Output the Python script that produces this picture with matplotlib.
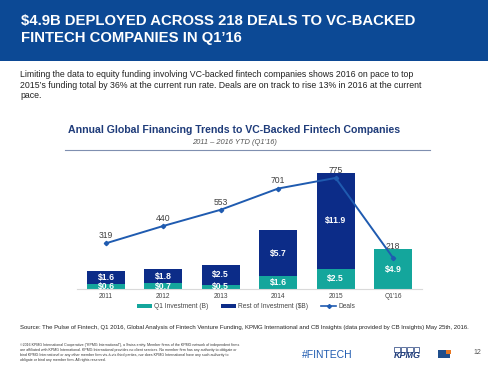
import numpy as np
import matplotlib
matplotlib.use("Agg")
import matplotlib.pyplot as plt
from matplotlib.patches import Rectangle, Patch
from matplotlib.lines import Line2D

# Data
years = ["2011", "2012", "2013", "2014", "2015", "Q1'16"]
q1_investment = [0.6, 0.7, 0.5, 1.6, 2.5, 4.9]
rest_investment = [1.6, 1.8, 2.5, 5.7, 11.9, 0.0]
deals = [319, 440, 553, 701, 775, 218]

plt.rcParams['font.family'] = ['Liberation Sans', 'DejaVu Sans']

header_blue = '#0C4995'
navy = '#0C2C88'
teal = '#14A69C'
line_blue = '#1F5BB0'

fig = plt.figure(figsize=(4.88, 3.70), dpi=100)
W, H = 488, 370

def fx(px):
    return px / W

def fy(py):
    return 1 - py / H

# header band
fig.patches.append(Rectangle((0, fy(61)), 1, 61 / H, transform=fig.transFigure,
                             facecolor=header_blue, edgecolor='none', zorder=0))
fig.text(fx(21), fy(21), "$4.9B DEPLOYED ACROSS 218 DEALS TO VC-BACKED",
         color='white', fontsize=10.7, fontweight='bold', va='center')
fig.text(fx(21), fy(38), "FINTECH COMPANIES IN Q1\u201916",
         color='white', fontsize=10.7, fontweight='bold', va='center')

intro = ("Limiting the data to equity funding involving VC-backed fintech companies shows 2016 on pace to top\n"
         "2015\u2019s funding total by 36% at the current run rate. Deals are on track to rise 13% in 2016 at the current\n"
         "pace.")
fig.text(fx(20), fy(70), intro, color='#222222', fontsize=6.3, va='top', linespacing=1.25)

# chart title
fig.text(fx(234), fy(130), "Annual Global Financing Trends to VC-Backed Fintech Companies",
         color='#1F3C7A', fontsize=7.6, fontweight='bold', ha='center', va='center')
fig.text(fx(234), fy(142), "2011 \u2013 2016 YTD (Q1\u201916)",
         color='#555555', fontsize=5.4, style='italic', ha='center', va='center')
fig.add_artist(Line2D([fx(65), fx(430)], [fy(150), fy(150)], transform=fig.transFigure,
                      color='#7F8FB0', linewidth=0.8))

# main axes
ax = fig.add_axes([fx(77.3), fy(289), (421.7 - 77.3) / W, 129 / H])
x = np.arange(len(years))
ax.bar(x, q1_investment, width=0.66, color=teal, zorder=2)
ax.bar(x, rest_investment, width=0.66, bottom=q1_investment, color=navy, zorder=2)
ax.set_xlim(-0.5, 5.5)
ax.set_ylim(0, 16)
ax.set_xticks(x)
ax.set_xticklabels(years, fontsize=4.8, color='#444444')
ax.tick_params(axis='x', length=0, pad=3)
ax.set_yticks([])
for s in ['top', 'right', 'left']:
    ax.spines[s].set_visible(False)
ax.spines['bottom'].set_color('#D9D9D9')
ax.spines['bottom'].set_linewidth(0.8)

for i in range(len(years)):
    ax.text(x[i], q1_investment[i] / 2, f"${q1_investment[i]}", color='white',
            fontsize=6.2, fontweight='bold', ha='center', va='center', zorder=3)
    if rest_investment[i] > 0:
        ax.text(x[i], q1_investment[i] + rest_investment[i] / 2, f"${rest_investment[i]}",
                color='white', fontsize=6.2, fontweight='bold', ha='center', va='center', zorder=3)

ax2 = ax.twinx()
ax2.set_ylim(0, 900)
ax2.plot(x, deals, color=line_blue, linewidth=1.4, marker='D', markersize=2.2, zorder=4)
ax2.set_yticks([])
for s in ['top', 'right', 'left', 'bottom']:
    ax2.spines[s].set_visible(False)
for i, d in enumerate(deals):
    off = 8 if i == len(deals) - 1 else 5.5
    ax2.annotate(str(d), (x[i], d), xytext=(0, off), textcoords='offset points',
                 ha='center', va='center', fontsize=6.2, color='#404040')

handles = [Patch(facecolor=teal, edgecolor='none'),
           Patch(facecolor=navy, edgecolor='none'),
           Line2D([0], [0], color=line_blue, linewidth=1.2, marker='D', markersize=2)]
fig.legend(handles, ["Q1 Investment (B)", "Rest of Investment ($B)", "Deals"],
           loc='center', bbox_to_anchor=(fx(246), fy(307)), ncol=3, frameon=False,
           fontsize=4.8, handlelength=2.2, handleheight=0.6, columnspacing=2.0,
           handletextpad=0.3, labelcolor='#444444')

# source
fig.text(fx(20), fy(327), "Source: The Pulse of Fintech, Q1 2016, Global Analysis of Fintech Venture Funding, "
         "KPMG International and CB Insights (data provided by CB Insights) May 25th, 2016.",
         fontsize=4.35, color='#222222', va='center')

disclaimer = ("\u00a92016 KPMG International Cooperative (\u201cKPMG International\u201d), a Swiss entity. Member firms of the KPMG network of independent firms\n"
              "are affiliated with KPMG International. KPMG International provides no client services. No member firm has any authority to obligate or\n"
              "bind KPMG International or any other member firm vis-\u00e0-vis third parties, nor does KPMG International have any such authority to\n"
              "obligate or bind any member firm. All rights reserved.")
fig.text(fx(20), fy(343), disclaimer, fontsize=2.65, color='#333333', va='top', linespacing=1.35)

fig.text(fx(302), fy(355), "#FINTECH", fontsize=7.5, color='#1F5BB0', va='center')

# KPMG logo
for k in range(4):
    fig.patches.append(Rectangle((fx(394 + k * 6.5), fy(352)), 5.5 / W, 5 / H,
                                 transform=fig.transFigure, facecolor='none',
                                 edgecolor='#1F3C7A', linewidth=0.5))
fig.text(fx(407), fy(356), "KPMG", fontsize=6.5, color='#1F3C7A', fontweight='bold',
         style='italic', ha='center', va='center')

# CB logo
fig.patches.append(Rectangle((fx(438), fy(358)), 12 / W, 8 / H, transform=fig.transFigure,
                             facecolor='#1F4E8C', edgecolor='none'))
fig.patches.append(Rectangle((fx(446), fy(354)), 5 / W, 4 / H, transform=fig.transFigure,
                             facecolor='#E87722', edgecolor='none'))

fig.text(fx(473), fy(352), "12", fontsize=5, color='#555555', va='center')

fig.savefig("out.png", dpi=100)
